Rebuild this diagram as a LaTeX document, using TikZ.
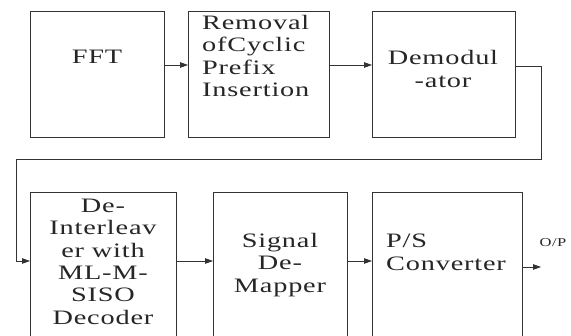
\documentclass[tikz,border=0pt]{standalone}
\usepackage{fontspec}
\setmainfont{Liberation Serif}
\newfontfamily\blockfont{Liberation Serif}[FakeStretch=1.38, LetterSpace=4]
\usetikzlibrary{arrows.meta}
\tikzset{
  blk/.style={draw=black!80, line width=0.8pt, anchor=north west, inner sep=0pt},
  lbl/.style={font=\blockfont\fontsize{20.5}{22.3}\selectfont, text=black!85, inner sep=0pt},
  arr/.style={draw=black!80, line width=0.8pt, -{Triangle[length=8pt,width=5.5pt]}},
  wire/.style={draw=black!80, line width=0.8pt}
}
\begin{document}
\begin{tikzpicture}[x=1pt,y=-1pt]
\useasboundingbox (0,0) rectangle (571,336);
\clip (0,0) rectangle (571,336);
\fill[white] (0,0) rectangle (571,336);

% upper row of blocks
\node[blk, minimum width=134pt, minimum height=126pt] (fft) at (30,11) {};
\node[blk, minimum width=141pt, minimum height=126pt] (rem) at (188,11) {};
\node[blk, minimum width=143pt, minimum height=126pt] (dem) at (372,11) {};

% lower row of blocks (running off the bottom edge)
\node[blk, minimum width=146pt, minimum height=160pt] (dei) at (30,192) {};
\node[blk, minimum width=134pt, minimum height=160pt] (sig) at (213,192) {};
\node[blk, minimum width=150pt, minimum height=160pt] (ps) at (372,192) {};

% block texts
\node[lbl] (fftT) at (97,57) {FFT};
\node[lbl, align=left, anchor=north west] (remT) at (202,15)
  {Removal\\ofCyclic\\Prefix\\Insertion};
\node[lbl, align=center] (demT) at (443,69) {Demodul\\-ator};
\node[lbl, align=center, anchor=north] (deiT) at (103,199)
  {De-\\Interleav\\er with\\ML-M-\\SISO\\Decoder};
\node[lbl, align=center] (sigT) at (280,265) {Signal\\De-\\Mapper};
\node[lbl, align=left, anchor=north west] (psT) at (386,234) {P/S\\Converter};
\node[font=\blockfont\fontsize{12}{14}\selectfont, text=black!85, inner sep=0pt] (op) at (553,243) {O/P};

% connector heights
\coordinate (r1) at (0,65);
\coordinate (r1b) at (0,66);
\coordinate (turnA) at (541,159);
\coordinate (turnB) at (16,261);
\coordinate (r2) at (0,261);
\coordinate (outEnd) at (541,267);

% connectors
\draw[arr] (fft.east |- r1) -- (rem.west |- r1);
\draw[arr] (rem.east |- r1) -- (dem.west |- r1);
\draw[arr] (dem.east |- r1b) -| (turnA) -| (turnB) -- (dei.west |- turnB);
\draw[arr] (dei.east |- r2) -- (sig.west |- r2);
\draw[arr] (sig.east |- r2) -- (ps.west |- r2);
\draw[arr] (ps.east |- outEnd) -- (outEnd);
\end{tikzpicture}
\end{document}
